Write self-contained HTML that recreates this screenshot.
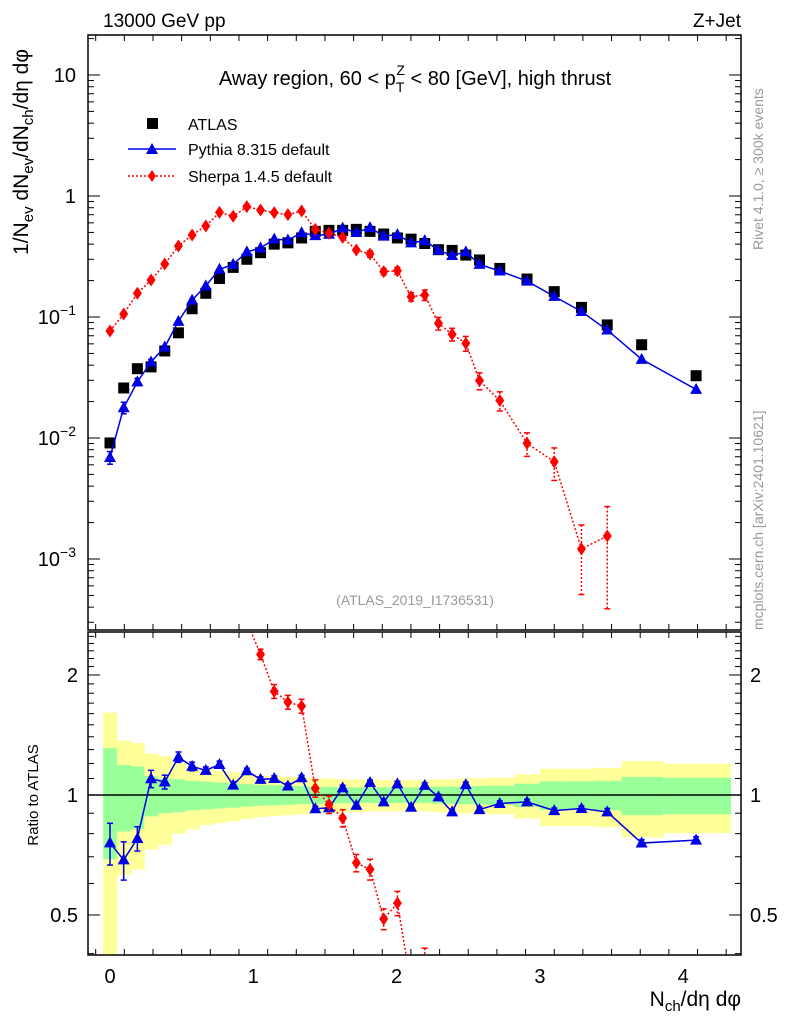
<!DOCTYPE html>
<html><head><meta charset="utf-8"><style>
html,body{margin:0;padding:0;background:#fff;width:786px;height:1024px;overflow:hidden}
svg{display:block;font-family:"Liberation Sans",sans-serif}
</style></head><body>
<svg id="chart" width="786" height="1024" viewBox="0 0 786 1024" xmlns="http://www.w3.org/2000/svg">
<defs>
<clipPath id="cm"><rect x="88" y="35" width="653" height="595"/></clipPath>
<clipPath id="cr"><rect x="88" y="632" width="653" height="323"/></clipPath>
</defs>
<rect x="0" y="0" width="786" height="1024" fill="#fff"/>
<g id="ratioBands" clip-path="url(#cr)"></g>
<g id="mainMarks" clip-path="url(#cm)"></g>
<g id="ratioMarks" clip-path="url(#cr)"></g>
<g id="axes"></g>
<text x="103" y="27" font-size="19">13000 GeV pp</text>
<text x="741" y="27" font-size="19" text-anchor="end">Z+Jet</text>
<text x="415" y="85" font-size="20" text-anchor="middle">Away region, 60 &lt; p<tspan font-size="14" dy="7">T</tspan><tspan font-size="14" dx="-8" dy="-17">Z</tspan><tspan dy="10"> &lt; 80 [GeV], high thrust</tspan></text>
<g>
<rect x="147" y="118" width="11" height="11" fill="#000"/>
<text x="188" y="130" font-size="16">ATLAS</text>
<line x1="128" y1="149" x2="176" y2="149" stroke="#0000e6" stroke-width="1.5"/>
<polygon points="152,143 158,154 146,154" fill="#0000e6"/>
<text x="188" y="155" font-size="16">Pythia 8.315 default</text>
<line x1="128" y1="176" x2="176" y2="176" stroke="#f00" stroke-width="1.5" stroke-dasharray="2,2"/>
<polygon points="152,170 156,176 152,182 148,176" fill="#f00"/>
<text x="188" y="182" font-size="16">Sherpa 1.4.5 default</text>
</g>
<text x="415" y="605" font-size="14" fill="#999" text-anchor="middle">(ATLAS_2019_I1736531)</text>
<text transform="translate(763,250) rotate(-90)" font-size="14" fill="#999">Rivet 4.1.0, ≥ 300k events</text>
<text transform="translate(763,630) rotate(-90)" font-size="14" fill="#999">mcplots.cern.ch [arXiv:2401.10621]</text>
<text transform="translate(28,152) rotate(-90)" font-size="21" text-anchor="middle">1/N<tspan font-size="15" dy="5">ev</tspan><tspan dy="-5"> dN</tspan><tspan font-size="15" dy="5">ev</tspan><tspan dy="-5">/dN</tspan><tspan font-size="15" dy="5">ch</tspan><tspan dy="-5">/dη dφ</tspan></text>
<text transform="translate(38,795) rotate(-90)" font-size="15" text-anchor="middle">Ratio to ATLAS</text>
<text x="741" y="1006" font-size="21" text-anchor="end">N<tspan font-size="15" dy="5">ch</tspan><tspan dy="-5">/dη dφ</tspan></text>
</svg>
<script>
const xVals=[0,0.0955,0.191,0.2865,0.382,0.4775,0.573,0.6685,0.764,0.8595,0.955,1.0505,1.146,1.2415,1.337,1.4325,1.528,1.6235,1.719,1.8145,1.91,2.0055,2.101,2.1965,2.292,2.3875,2.483,2.5785,2.72,2.91,3.10,3.29,3.47,3.71,4.09];
const binLo=[-0.0477,0.0477,0.143,0.239,0.334,0.43,0.525,0.621,0.716,0.812,0.907,1.003,1.098,1.194,1.289,1.385,1.48,1.576,1.671,1.767,1.862,1.958,2.053,2.149,2.244,2.34,2.435,2.531,2.626,2.82,3.0,3.19,3.38,3.57,3.86];
const binHi=[0.0477,0.143,0.239,0.334,0.43,0.525,0.621,0.716,0.812,0.907,1.003,1.098,1.194,1.289,1.385,1.48,1.576,1.671,1.767,1.862,1.958,2.053,2.149,2.244,2.34,2.435,2.531,2.626,2.82,3.0,3.19,3.38,3.57,3.86,4.33];
const atlasVals=[0.0091,0.0259,0.0374,0.0387,0.0524,0.074,0.117,0.157,0.208,0.257,0.30,0.34,0.40,0.41,0.45,0.51,0.52,0.52,0.53,0.51,0.485,0.45,0.44,0.405,0.36,0.355,0.325,0.296,0.252,0.206,0.162,0.120,0.086,0.059,0.0327];
const atlasTotErr=[0.61,0.37,0.35,0.27,0.25,0.20,0.18,0.16,0.15,0.14,0.13,0.12,0.115,0.11,0.105,0.10,0.10,0.095,0.095,0.09,0.09,0.09,0.09,0.09,0.095,0.095,0.1,0.1,0.105,0.127,0.164,0.164,0.17,0.217,0.198];
const atlasStatErr=[0.31,0.19,0.18,0.116,0.10,0.095,0.085,0.08,0.075,0.07,0.065,0.06,0.058,0.055,0.052,0.05,0.048,0.046,0.045,0.045,0.045,0.045,0.045,0.045,0.048,0.05,0.052,0.053,0.055,0.067,0.082,0.082,0.085,0.11,0.105];
const pythiaVals=[0.0069,0.0178,0.0291,0.0425,0.0565,0.0921,0.138,0.181,0.248,0.272,0.345,0.372,0.44,0.432,0.497,0.471,0.483,0.542,0.499,0.548,0.466,0.48,0.41,0.428,0.356,0.322,0.345,0.272,0.24,0.198,0.148,0.111,0.078,0.0447,0.0252];
const pythiaErr=[0.12,0.11,0.07,0.05,0.04,0.03,0.025,0.02,0.02,0.02,0.015,0.015,0.015,0.015,0.015,0.015,0.015,0.015,0.015,0.015,0.015,0.015,0.015,0.015,0.015,0.015,0.015,0.015,0.015,0.015,0.015,0.015,0.02,0.02,0.02];
const sherpaVals=[0.0766,0.106,0.157,0.202,0.274,0.386,0.476,0.565,0.733,0.68,0.816,0.766,0.728,0.701,0.752,0.53,0.492,0.455,0.358,0.332,0.237,0.241,0.147,0.152,0.0887,0.072,0.0606,0.0298,0.0204,0.00904,0.00637,0.00121,0.00155];
const sherpaErr=[0.05,0.04,0.03,0.03,0.03,0.03,0.03,0.03,0.03,0.03,0.03,0.03,0.04,0.04,0.04,0.05,0.05,0.05,0.05,0.06,0.06,0.07,0.08,0.1,0.12,0.12,0.14,0.16,0.18,0.22,0.3,0.58,0.75];
const xTicks=[0,1,2,3,4];
const yDecades=[10,1,0.1,0.01,0.001];
const yDecadeLabels=["10","1","10^-1","10^-2","10^-3"];
const ratioTicks=[0.5,1,2];
const ratioTickLabels=["0.5","1","2"];

const NS="http://www.w3.org/2000/svg";
const X=v=>110+v*143.3;
const YM=v=>196-Math.log10(v)*121;
const YR=r=>795-Math.log2(r)*120;
function mk(parent,tag,attrs){const e=document.createElementNS(NS,tag);for(const k in attrs)e.setAttribute(k,attrs[k]);parent.appendChild(e);return e;}
const gB=document.getElementById('ratioBands'),gM=document.getElementById('mainMarks'),gR=document.getElementById('ratioMarks'),gA=document.getElementById('axes');
const BLUE="#0000e6",RED="#ff0000";
function tri(g,x,y,name){const p=mk(g,'polygon',{points:`${x},${y-6.5} ${x+6},${y+4.5} ${x-6},${y+4.5}`,fill:BLUE});

}
function dia(g,x,y,name){const p=mk(g,'polygon',{points:`${x},${y-6.5} ${x+4.5},${y} ${x},${y+6.5} ${x-4.5},${y}`,fill:RED});

}
function ebar(g,x,y1,y2,col,dash){mk(g,'line',{x1:x,x2:x,y1:y1,y2:y2,stroke:col,'stroke-width':1.5,'stroke-dasharray':dash||'none'});
mk(g,'line',{x1:x-3,x2:x+3,y1:y1,y2:y1,stroke:col,'stroke-width':1.5});mk(g,'line',{x1:x-3,x2:x+3,y1:y2,y2:y2,stroke:col,'stroke-width':1.5});}

xVals.forEach((x,i)=>{const x1=X(binLo[i]),w=X(binHi[i])-x1;
 const t=atlasTotErr[i],s=atlasStatErr[i];
 const y=mk(gB,'rect',{x:x1,y:YR(1+t),width:w+0.5,height:YR(Math.max(1-t,0.01))-YR(1+t),fill:'#ffff99'});
 
 
 const gr=mk(gB,'rect',{x:x1,y:YR(1+s),width:w+0.5,height:YR(1-s)-YR(1+s),fill:'#99ff99'});
 
 
});
const one=mk(gR,'line',{x1:88,x2:741,y1:YR(1),y2:YR(1),stroke:'#000','stroke-width':1.5});



xVals.forEach((x,i)=>{const r=mk(gM,'rect',{x:X(x)-5.5,y:YM(atlasVals[i])-5.5,width:11,height:11,fill:'#000'});
 
 });
mk(gM,'polyline',{points:xVals.map((x,i)=>X(x)+','+YM(pythiaVals[i])).join(' '),fill:'none',stroke:BLUE,'stroke-width':1.5});
xVals.forEach((x,i)=>{const v=pythiaVals[i],e=pythiaErr[i]*v;if(pythiaErr[i]>0.04)ebar(gM,X(x),YM(v+e),YM(v-e),BLUE);tri(gM,X(x),YM(v),'pythia-point');});
const sx=xVals.slice(0,sherpaVals.length);
mk(gM,'polyline',{points:sx.map((x,i)=>X(x)+','+YM(sherpaVals[i])).join(' '),fill:'none',stroke:RED,'stroke-width':1.5,'stroke-dasharray':'2,2'});
sx.forEach((x,i)=>{const v=sherpaVals[i],e=sherpaErr[i]*v;if(sherpaErr[i]>0.05)ebar(gM,X(x),YM(v+e),YM(Math.max(v-e,1e-5)),RED,'2,2');dia(gM,X(x),YM(v),'sherpa-point');});

const pr=pythiaVals.map((v,i)=>v/atlasVals[i]);
mk(gR,'polyline',{points:xVals.map((x,i)=>X(x)+','+YR(pr[i])).join(' '),fill:'none',stroke:BLUE,'stroke-width':1.5});
xVals.forEach((x,i)=>{const r=pr[i],e=pythiaErr[i]*r;ebar(gR,X(x),YR(r+e),YR(r-e),BLUE);tri(gR,X(x),YR(r),'pythia-ratio-point');});
const sr=sherpaVals.map((v,i)=>v/atlasVals[i]);
mk(gR,'polyline',{points:sx.map((x,i)=>X(x)+','+YR(sr[i])).join(' '),fill:'none',stroke:RED,'stroke-width':1.5,'stroke-dasharray':'2,2'});
sx.forEach((x,i)=>{const r=sr[i],e=sherpaErr[i]*r;ebar(gR,X(x),YR(r+e),YR(Math.max(r-e,0.01)),RED,'2,2');dia(gR,X(x),YR(r),'sherpa-ratio-point');});

[[35,630],[632,955]].forEach(([t,b])=>{const f=mk(gA,'rect',{x:88,y:t,width:653,height:b-t,fill:'none',stroke:'#000','stroke-width':1.5});
 
 });
function tk(x1,y1,x2,y2){mk(gA,'line',{x1,y1,x2,y2,stroke:'#000','stroke-width':1});}
for(let v=-0.1;v<=4.4;v+=0.2){const vv=Math.round(v*10)/10;if(vv<-0.15)continue;const px=X(vv);const major=Math.abs(vv-Math.round(vv))<1e-6;const L=major?12:6;
 if(px<88||px>741)continue;
 tk(px,630,px,630-L);tk(px,35,px,35+L);tk(px,955,px,955-L);tk(px,632,px,632+L);}
xTicks.forEach(v=>{const t=mk(gA,'text',{x:X(v),y:983,'font-size':20,'text-anchor':'middle'});t.textContent=v;
 
 });
for(let d=-4;d<=1;d++){for(let m=1;m<=9;m++){const v=m*Math.pow(10,d);const py=YM(v);if(py<35||py>630)continue;const L=m===1?12:6;tk(88,py,88+L,py);tk(741,py,741-L,py);}}
yDecades.forEach((v,i)=>{const lab=yDecadeLabels[i];const t=mk(gA,'text',{x:76,y:YM(v)+7,'font-size':20,'text-anchor':'end'});
 if(lab.includes('^')){const [b,e]=lab.split('^');t.textContent=b;const s=mk(t,'tspan',{'font-size':14,dy:-9});s.textContent=e.replace('-','−');}
 else t.textContent=lab;
 
 });
for(let r=0.4;r<=2.56;r+=0.1){const rr=Math.round(r*10)/10;const py=YR(rr);if(py<632||py>955)continue;const major=(rr===0.5||rr===1||rr===2);const L=major?12:6;tk(88,py,88+L,py);tk(741,py,741-L,py);}
ratioTicks.forEach((v,i)=>{[[78,'end'],[750,'start']].forEach(([x,a])=>{const t=mk(gA,'text',{x:x,y:YR(v)+7,'font-size':20,'text-anchor':a});t.textContent=ratioTickLabels[i];
 
 });});
</script>
</body></html>
